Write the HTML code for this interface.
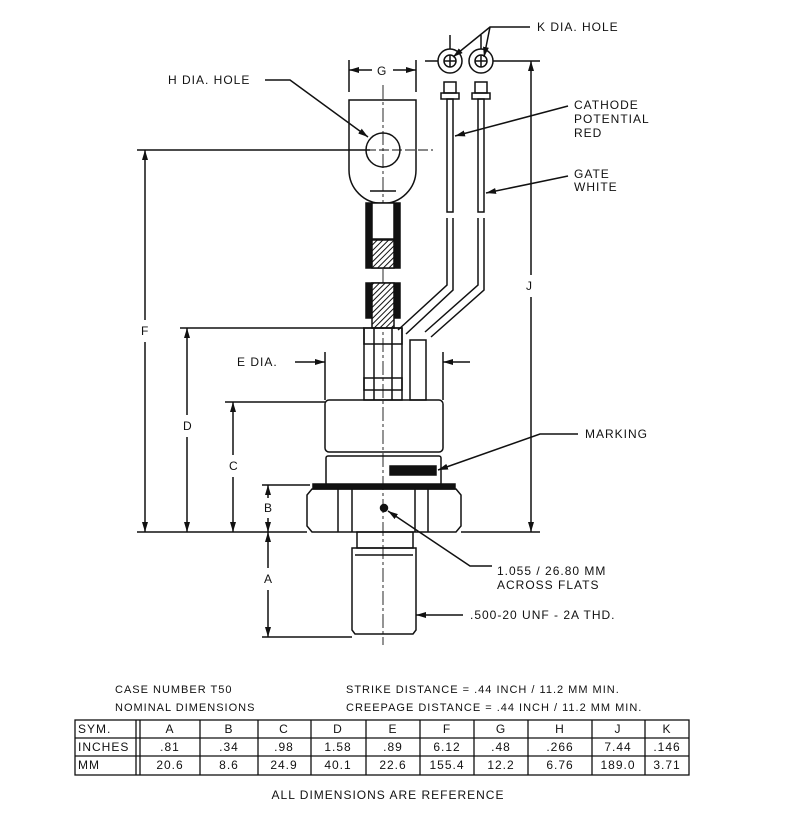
<!DOCTYPE html>
<html><head><style>
body{margin:0;background:#fff}
svg{display:block}
text{font-family:"Liberation Sans",sans-serif;font-size:12px;fill:#111;letter-spacing:1px}
</style></head><body>
<svg width="800" height="815" viewBox="0 0 800 815" xmlns="http://www.w3.org/2000/svg">
<defs>
<marker id="a" markerWidth="10" markerHeight="6" refX="10" refY="3" orient="auto" markerUnits="userSpaceOnUse"><path d="M0,0 L10,3 L0,6z" fill="#111"/></marker>
<pattern id="h" width="4" height="4" patternUnits="userSpaceOnUse" patternTransform="rotate(45)"><rect width="4" height="4" fill="#fff"/><line x1="0" y1="0" x2="0" y2="4" stroke="#111" stroke-width="2"/></pattern>
</defs>
<g stroke="#111" stroke-width="1.5" fill="none">
<line x1="383" y1="85" x2="383" y2="645" stroke-width="0.9" stroke-dasharray="14,3,3,3"/>
<line x1="349" y1="60" x2="349" y2="92"/><line x1="416" y1="60" x2="416" y2="92"/>
<line x1="372" y1="70" x2="349" y2="70" marker-end="url(#a)"/><line x1="393" y1="70" x2="416" y2="70" marker-end="url(#a)"/>
<path d="M349,100 H416 V170 A33,33 0 0 1 349,170 Z"/>
<circle cx="383" cy="150" r="17"/>
<line x1="340" y1="150" x2="433" y2="150" stroke-width="0.9" stroke-dasharray="10,3"/>
<line x1="370" y1="191" x2="396" y2="191"/>
<rect x="366" y="203" width="34" height="65" fill="#111"/>
<rect x="372" y="203" width="22" height="36" fill="#fff"/>
<rect x="372" y="240" width="22" height="28" fill="url(#h)"/>
<rect x="366" y="283" width="34" height="35" fill="#111"/>
<rect x="372" y="283" width="22" height="45" fill="url(#h)"/>
<rect x="364" y="328" width="38" height="72"/>
<rect x="364" y="328" width="38" height="16"/><rect x="364" y="378" width="38" height="12"/>
<line x1="374" y1="328" x2="374" y2="400"/><line x1="392" y1="328" x2="392" y2="400"/>
<circle cx="450" cy="61" r="12"/><circle cx="481" cy="61" r="12"/>
<circle cx="450" cy="61" r="6"/><circle cx="481" cy="61" r="6"/>
<line x1="444" y1="61" x2="456" y2="61"/><line x1="450" y1="55" x2="450" y2="67"/>
<line x1="475" y1="61" x2="487" y2="61"/><line x1="481" y1="55" x2="481" y2="67"/>
<line x1="450" y1="35" x2="450" y2="49"/><line x1="481" y1="35" x2="481" y2="49"/>
<line x1="425" y1="61" x2="438" y2="61"/><line x1="493" y1="61" x2="540" y2="61"/>
<rect x="444" y="82" width="12" height="11"/><rect x="441" y="93" width="18" height="6"/>
<rect x="475" y="82" width="12" height="11"/><rect x="472" y="93" width="18" height="6"/>
<rect x="447" y="99" width="6" height="113"/><rect x="478" y="99" width="6" height="113"/>
<path d="M447,218 V285 L398,330 M453,218 V290 L406,334"/>
<path d="M478,218 V285 L425,332 M484,218 V290 L431,337"/>
<rect x="410" y="340" width="16" height="60"/>
<line x1="325" y1="352" x2="325" y2="400"/><line x1="443" y1="352" x2="443" y2="400"/>
<line x1="295" y1="362" x2="325" y2="362" marker-end="url(#a)"/><line x1="470" y1="362" x2="443" y2="362" marker-end="url(#a)"/>
<rect x="325" y="400" width="118" height="52" rx="4"/>
<rect x="326" y="456" width="115" height="29" rx="2"/>
<rect x="390" y="466" width="46" height="9" fill="#111"/>
<rect x="313" y="484" width="142" height="5" fill="#111"/>
<path d="M312,489 H456 L461,495 V526 L456,532 H312 L307,526 V495 Z"/>
<line x1="338" y1="489" x2="338" y2="532"/><line x1="352" y1="489" x2="352" y2="532"/>
<line x1="415" y1="489" x2="415" y2="532"/><line x1="428" y1="489" x2="428" y2="532"/>
<circle cx="384" cy="508" r="3.5" fill="#111"/>
<rect x="357" y="532" width="56" height="16"/>
<path d="M352,548 H416 V630 L413,634 H355 L352,630 Z"/>
<line x1="355" y1="555" x2="413" y2="555"/>
<line x1="137" y1="150" x2="370" y2="150"/>
<line x1="180" y1="328" x2="364" y2="328"/>
<line x1="225" y1="402" x2="325" y2="402"/>
<line x1="262" y1="485" x2="310" y2="485"/>
<line x1="137" y1="532" x2="307" y2="532"/><line x1="461" y1="532" x2="540" y2="532"/>
<line x1="262" y1="637" x2="352" y2="637"/>
<line x1="145" y1="320" x2="145" y2="150" marker-end="url(#a)"/><line x1="145" y1="342" x2="145" y2="532" marker-end="url(#a)"/>
<line x1="187" y1="415" x2="187" y2="328" marker-end="url(#a)"/><line x1="187" y1="437" x2="187" y2="532" marker-end="url(#a)"/>
<line x1="233" y1="455" x2="233" y2="402" marker-end="url(#a)"/><line x1="233" y1="477" x2="233" y2="532" marker-end="url(#a)"/>
<line x1="268" y1="498" x2="268" y2="485" marker-end="url(#a)"/><line x1="268" y1="518" x2="268" y2="532" marker-end="url(#a)"/>
<line x1="268" y1="568" x2="268" y2="532" marker-end="url(#a)"/><line x1="268" y1="590" x2="268" y2="637" marker-end="url(#a)"/>
<line x1="531" y1="275" x2="531" y2="61" marker-end="url(#a)"/><line x1="531" y1="297" x2="531" y2="532" marker-end="url(#a)"/>
<path d="M265,80 H290 L368,137" marker-end="url(#a)"/>
<path d="M530,27 H490 L453,57" marker-end="url(#a)"/><path d="M490,27 L484,57" marker-end="url(#a)"/>
<path d="M568,106 L455,136" marker-end="url(#a)"/>
<path d="M568,176 L486,193" marker-end="url(#a)"/>
<path d="M578,434 H540 L438,470" marker-end="url(#a)"/>
<path d="M492,566 H470 L388,511" marker-end="url(#a)"/>
<line x1="463" y1="615" x2="416" y2="615" marker-end="url(#a)"/>
</g>
<g>
<text x="168" y="84">H DIA. HOLE</text>
<text x="377" y="75">G</text>
<text x="537" y="31">K DIA. HOLE</text>
<text x="574" y="109">CATHODE</text><text x="574" y="123">POTENTIAL</text><text x="574" y="137">RED</text>
<text x="574" y="178">GATE</text><text x="574" y="191">WHITE</text>
<text x="526" y="290">J</text>
<text x="141" y="335">F</text>
<text x="183" y="430">D</text>
<text x="229" y="470">C</text>
<text x="264" y="512">B</text>
<text x="264" y="583">A</text>
<text x="237" y="366">E DIA.</text>
<text x="585" y="438">MARKING</text>
<text x="497" y="575">1.055 / 26.80 MM</text><text x="497" y="589">ACROSS FLATS</text>
<text x="470" y="619">.500-20 UNF - 2A THD.</text>
<text x="115" y="693" style="font-size:11px">CASE NUMBER T50</text>
<text x="115" y="711" style="font-size:11px">NOMINAL DIMENSIONS</text>
<text x="346" y="693" style="font-size:11px">STRIKE DISTANCE = .44 INCH / 11.2 MM MIN.</text>
<text x="346" y="711" style="font-size:11px">CREEPAGE DISTANCE = .44 INCH / 11.2 MM MIN.</text>
<text x="388" y="799" text-anchor="middle">ALL DIMENSIONS ARE REFERENCE</text>
</g>
<g stroke="#111" stroke-width="1.3" fill="none">
<rect x="75" y="720" width="614" height="55"/>
<line x1="75" y1="738" x2="689" y2="738"/><line x1="75" y1="756" x2="689" y2="756"/>
<line x1="136" y1="720" x2="136" y2="775"/><line x1="140" y1="720" x2="140" y2="775"/>
<line x1="200" y1="720" x2="200" y2="775"/><line x1="258" y1="720" x2="258" y2="775"/>
<line x1="311" y1="720" x2="311" y2="775"/><line x1="366" y1="720" x2="366" y2="775"/>
<line x1="420" y1="720" x2="420" y2="775"/><line x1="474" y1="720" x2="474" y2="775"/>
<line x1="528" y1="720" x2="528" y2="775"/><line x1="592" y1="720" x2="592" y2="775"/>
<line x1="645" y1="720" x2="645" y2="775"/>
</g>
<g style="font-size:11px" text-anchor="middle">
<text x="78" y="733" text-anchor="start">SYM.</text><text x="78" y="751" text-anchor="start">INCHES</text><text x="78" y="769" text-anchor="start">MM</text>
<text x="170" y="733">A</text><text x="229" y="733">B</text><text x="284" y="733">C</text><text x="338" y="733">D</text><text x="393" y="733">E</text><text x="447" y="733">F</text><text x="501" y="733">G</text><text x="560" y="733">H</text><text x="618" y="733">J</text><text x="667" y="733">K</text>
<text x="170" y="751">.81</text><text x="229" y="751">.34</text><text x="284" y="751">.98</text><text x="338" y="751">1.58</text><text x="393" y="751">.89</text><text x="447" y="751">6.12</text><text x="501" y="751">.48</text><text x="560" y="751">.266</text><text x="618" y="751">7.44</text><text x="667" y="751">.146</text>
<text x="170" y="769">20.6</text><text x="229" y="769">8.6</text><text x="284" y="769">24.9</text><text x="338" y="769">40.1</text><text x="393" y="769">22.6</text><text x="447" y="769">155.4</text><text x="501" y="769">12.2</text><text x="560" y="769">6.76</text><text x="618" y="769">189.0</text><text x="667" y="769">3.71</text>
</g>
</svg>
</body></html>
